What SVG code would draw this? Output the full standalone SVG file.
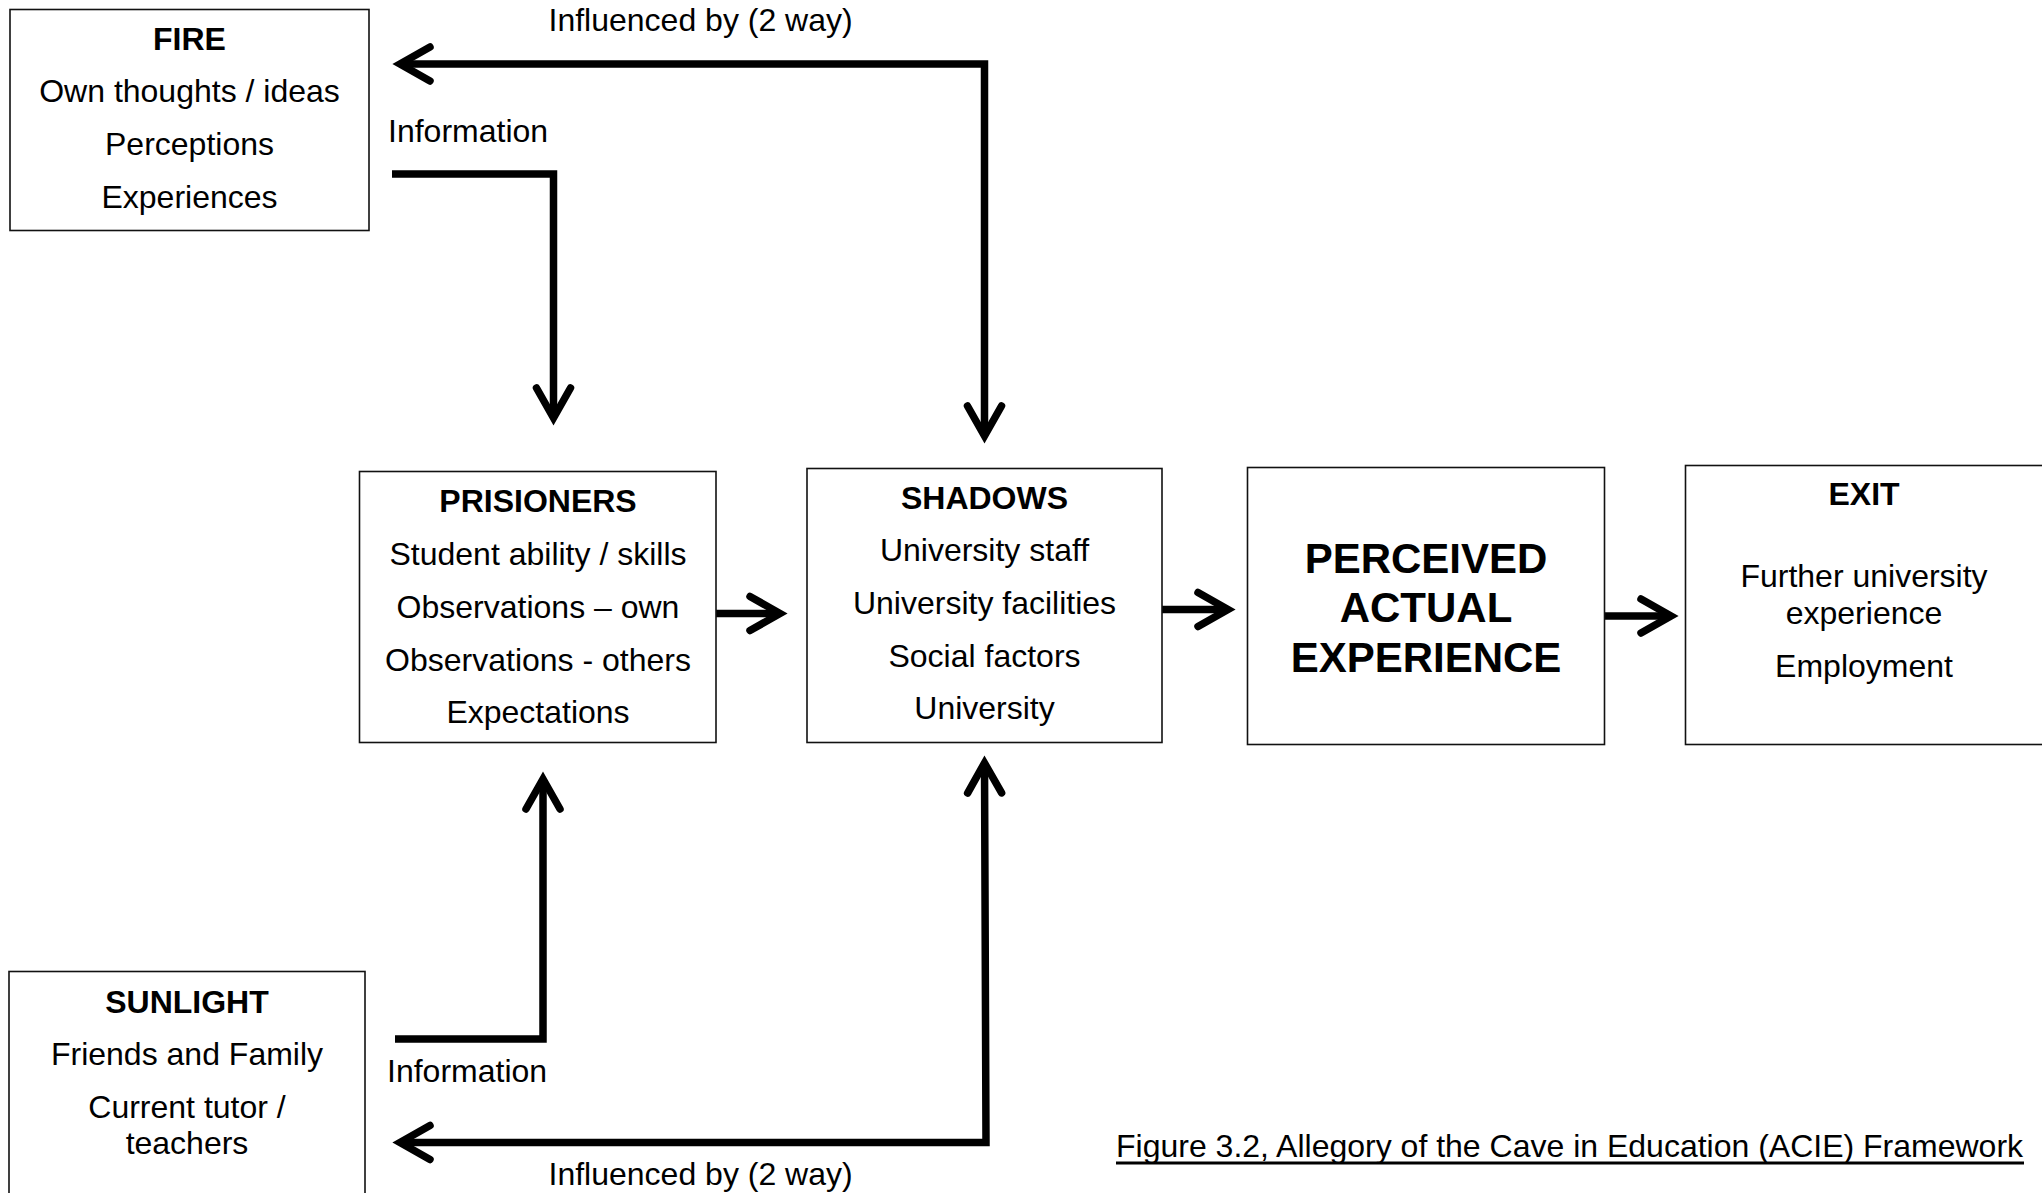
<svg xmlns="http://www.w3.org/2000/svg" width="2042" height="1193" viewBox="0 0 2042 1193">
  <style>
    .box { fill: #ffffff; stroke: #111111; stroke-width: 1.6; }
    .t { font-family: "Liberation Sans", Arial, sans-serif; font-size: 32px; fill: #000000; text-anchor: middle; }
    .h { font-weight: bold; }
    .big { font-family: "Liberation Sans", Arial, sans-serif; font-size: 42px; font-weight: bold; fill: #000000; text-anchor: middle; }
    .lbl { font-family: "Liberation Sans", Arial, sans-serif; font-size: 32px; fill: #000000; }
    .wire { fill: none; stroke: #000000; stroke-width: 7.5; stroke-linejoin: miter; stroke-linecap: butt; }
  </style>
  <defs>
    <marker id="chev" markerUnits="userSpaceOnUse" viewBox="-40 -25 50 50" refX="0" refY="0" markerWidth="50" markerHeight="50" orient="auto-start-reverse" overflow="visible">
      <path d="M-30,-17 L0,0 L-30,17" fill="none" stroke="#000000" stroke-width="7.5" stroke-linecap="round" stroke-linejoin="miter"/>
    </marker>
  </defs>
  <rect width="2042" height="1193" fill="#ffffff"/>

  <!-- connectors -->
  <g id="connectors">
    <path class="wire" d="M400,64 H984.5 V436" marker-start="url(#chev)" marker-end="url(#chev)"/>
    <path class="wire" d="M392,174 H553.5 V418" marker-end="url(#chev)"/>
    <path class="wire" d="M395,1039 H543 V779" marker-end="url(#chev)"/>
    <path class="wire" d="M400,1142.5 H986 L984.5,763" marker-start="url(#chev)" marker-end="url(#chev)"/>
    <path class="wire" d="M716,613.5 H780" marker-end="url(#chev)"/>
    <path class="wire" d="M1162,609.5 H1228" marker-end="url(#chev)"/>
    <path class="wire" d="M1604.5,616 H1671" marker-end="url(#chev)"/>
    <text class="lbl" x="700.6" y="31" text-anchor="middle">Influenced by (2 way)</text>
    <text class="lbl" x="388" y="141.5">Information</text>
    <text class="lbl" x="387" y="1082">Information</text>
    <text class="lbl" x="700.6" y="1185" text-anchor="middle">Influenced by (2 way)</text>
  </g>

  <g id="fire">
    <rect class="box" x="10" y="9.5" width="359" height="221"/>
    <text class="t h" x="189.5" y="50">FIRE</text>
    <text class="t" x="189.5" y="102">Own thoughts / ideas</text>
    <text class="t" x="189.5" y="155">Perceptions</text>
    <text class="t" x="189.5" y="207.5">Experiences</text>
  </g>

  <g id="prisioners">
    <rect class="box" x="359.5" y="471.5" width="356.5" height="271"/>
    <text class="t h" x="538" y="512">PRISIONERS</text>
    <text class="t" x="538" y="565">Student ability / skills</text>
    <text class="t" x="538" y="617.5">Observations – own</text>
    <text class="t" x="538" y="670.5">Observations - others</text>
    <text class="t" x="538" y="722.5">Expectations</text>
  </g>

  <g id="shadows">
    <rect class="box" x="807" y="468.5" width="355" height="274"/>
    <text class="t h" x="984.5" y="508.5">SHADOWS</text>
    <text class="t" x="984.5" y="560.5">University staff</text>
    <text class="t" x="984.5" y="613.5">University facilities</text>
    <text class="t" x="984.5" y="666.5">Social factors</text>
    <text class="t" x="984.5" y="719">University</text>
  </g>

  <g id="perceived">
    <rect class="box" x="1247.5" y="467.5" width="357" height="277"/>
    <text class="big" x="1426" y="572.5">PERCEIVED</text>
    <text class="big" x="1426" y="622">ACTUAL</text>
    <text class="big" x="1426" y="671.5">EXPERIENCE</text>
  </g>

  <g id="exit">
    <rect class="box" x="1685.5" y="465.5" width="358" height="279"/>
    <text class="t h" x="1864" y="505">EXIT</text>
    <text class="t" x="1864" y="587">Further university</text>
    <text class="t" x="1864" y="623.5">experience</text>
    <text class="t" x="1864" y="676.5">Employment</text>
  </g>

  <g id="sunlight">
    <rect class="box" x="9" y="971.5" width="356" height="240"/>
    <text class="t h" x="187" y="1012.5">SUNLIGHT</text>
    <text class="t" x="187" y="1065">Friends and Family</text>
    <text class="t" x="187" y="1117.5">Current tutor /</text>
    <text class="t" x="187" y="1154">teachers</text>
  </g>

  <g id="caption">
    <text class="lbl" x="1116" y="1157">Figure 3.2, Allegory of the Cave in Education (ACIE) Framework</text>
    <line x1="1116" y1="1163" x2="2024" y2="1163" stroke="#000000" stroke-width="3"/>
  </g>
</svg>
